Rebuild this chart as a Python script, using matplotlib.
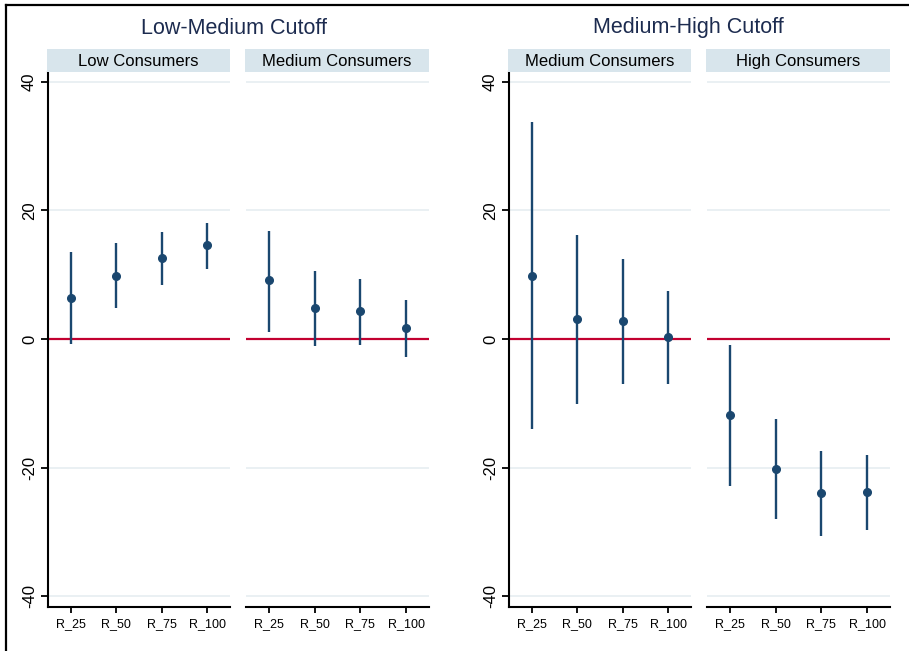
import matplotlib
matplotlib.use("Agg")
import matplotlib.pyplot as plt
from matplotlib.lines import Line2D

# ---- data ----
categories = ["R_25", "R_50", "R_75", "R_100"]
group_titles = ["Low-Medium Cutoff", "Medium-High Cutoff"]
panel_titles = ["Low Consumers", "Medium Consumers", "Medium Consumers", "High Consumers"]

lm_low_est = [6.3, 9.85, 12.6, 14.6]
lm_low_lo = [-0.8, 4.8, 8.45, 10.9]
lm_low_hi = [13.5, 14.9, 16.6, 18.1]

lm_med_est = [9.1, 4.85, 4.3, 1.7]
lm_med_lo = [1.1, -1.1, -0.9, -2.8]
lm_med_hi = [16.75, 10.5, 9.3, 6.0]

mh_med_est = [9.85, 3.05, 2.8, 0.3]
mh_med_lo = [-14.0, -10.1, -7.0, -7.0]
mh_med_hi = [33.7, 16.1, 12.4, 7.4]

mh_high_est = [-11.9, -20.15, -24.0, -23.85]
mh_high_lo = [-22.8, -28.0, -30.6, -29.75]
mh_high_hi = [-1.0, -12.5, -17.5, -18.1]

yticks = [40, 20, 0, -20, -40]
ytick_labels = ["40", "20", "0", "-20", "-40"]

panels = [
    (lm_low_est, lm_low_lo, lm_low_hi),
    (lm_med_est, lm_med_lo, lm_med_hi),
    (mh_med_est, mh_med_lo, mh_med_hi),
    (mh_high_est, mh_high_lo, mh_high_hi),
]

# ---- styling ----
W, H = 909, 651
NAVY = "#1a476f"
RED = "#c20030"
GRID = "#e8eff2"
STRIP = "#d8e5ec"
TITLE_C = "#1c2b4f"
FONT = ["Liberation Sans", "DejaVu Sans"]
plt.rcParams["font.family"] = FONT

fig = plt.figure(figsize=(W / 100, H / 100), dpi=100)
fig.patch.set_facecolor("white")

def rect(x0, x1, ytop, ybot):
    return [x0 / W, 1 - ybot / H, (x1 - x0) / W, (ybot - ytop) / H]

panel_x = [(48, 230), (246, 429), (509, 691), (707, 890)]
PTOP, PBOT = 72, 606.5
STOP = 49

xs = list(range(1, len(categories) + 1))

for i, ((x0, x1), (est, lo, hi)) in enumerate(zip(panel_x, panels)):
    ax = fig.add_axes(rect(x0, x1, PTOP, PBOT))
    ax.set_xlim(0.5, 4.5)
    ax.set_ylim(-41.6, 41.5)
    for t in yticks:
        if t == 0:
            continue
        ax.axhline(t, color=GRID, lw=1.3, zorder=1)
    ax.axhline(0, color=RED, lw=1.6, zorder=2)
    ax.vlines(xs, lo, hi, color=NAVY, lw=1.7, zorder=3)
    ax.plot(xs, est, "o", color=NAVY, ms=5.5, zorder=4)
    for s in ["top", "right"]:
        ax.spines[s].set_visible(False)
    ax.spines["bottom"].set_linewidth(1.5)
    ax.spines["left"].set_linewidth(1.5)
    ax.set_xticks(xs)
    ax.set_xticklabels(categories, fontsize=9)
    ax.tick_params(axis="x", length=4, width=1.3, pad=4)
    if i % 2 == 0:
        ax.set_yticks(yticks)
        ax.set_yticklabels(ytick_labels, rotation=90, va="center", fontsize=12)
        ax.tick_params(axis="y", length=5, width=1.3, pad=3)
    else:
        ax.spines["left"].set_visible(False)
        ax.set_yticks([])
    # strip
    sax = fig.add_axes(rect(x0 - 1, x1, STOP, PTOP))
    sax.set_facecolor(STRIP)
    sax.set_xticks([]); sax.set_yticks([])
    for s in sax.spines.values():
        s.set_visible(False)
    sax.text(0.5, 0.45, panel_titles[i], ha="center", va="center",
             fontsize=12, color="black", transform=sax.transAxes)

# group titles
fig.text(234 / W, 1 - 28 / H, group_titles[0], ha="center", va="center",
         fontsize=15.5, color=TITLE_C)
fig.text(688 / W, 1 - 28 / H, group_titles[1], ha="center", va="center",
         fontsize=15.5, color=TITLE_C)

# outer border (top and left)
fig.add_artist(Line2D([5.5 / W, 1], [1 - 5 / H, 1 - 5 / H], transform=fig.transFigure,
                      color="black", lw=1.6))
fig.add_artist(Line2D([5.5 / W, 5.5 / W], [0, 1 - 5 / H], transform=fig.transFigure,
                      color="black", lw=1.6))

fig.savefig("out.png", dpi=100)
